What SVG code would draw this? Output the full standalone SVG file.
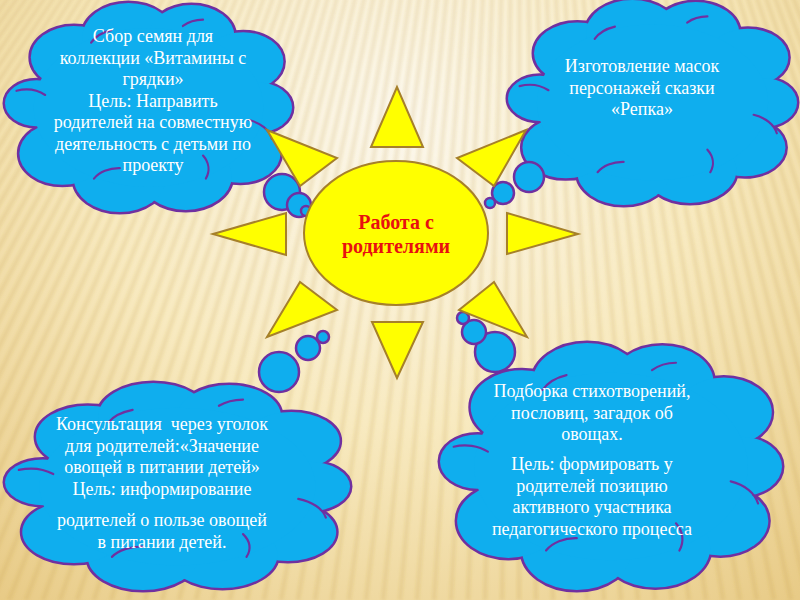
<svg xmlns="http://www.w3.org/2000/svg" xmlns:xlink="http://www.w3.org/1999/xlink" width="800" height="600" viewBox="0 0 800 600">
<style>
.lb{vector-effect:non-scaling-stroke}
.ia{fill:none;stroke:#7030A0;stroke-width:2.2;vector-effect:non-scaling-stroke;stroke-linecap:round}
.bub{fill:#0FAEEE;stroke:#7030A0;stroke-width:2.5}
.ray{fill:#FFFF00;stroke:#A6802A;stroke-width:2;stroke-linejoin:miter}
.t{font-family:"Liberation Serif","Times New Roman",serif;font-size:18px;fill:#FFFFFF;text-anchor:middle}
.st{font-family:"Liberation Serif","Times New Roman",serif;font-size:20px;font-weight:bold;fill:#E81010;text-anchor:middle}
</style>
<defs>
<radialGradient id="bg" cx="400" cy="120" r="680" gradientUnits="userSpaceOnUse">
<stop offset="0" stop-color="#FCF8EE"/>
<stop offset="0.45" stop-color="#F8EAC0"/>
<stop offset="1" stop-color="#E5C57C"/>
</radialGradient>
<filter id="soft" x="-5%" y="-5%" width="110%" height="110%"><feGaussianBlur stdDeviation="1.4"/></filter>
<g id="lobes">
<circle class="lb" cx="11" cy="48" r="11"/>
<circle class="lb" cx="24" cy="26" r="15"/>
<circle class="lb" cx="43" cy="16" r="16"/>
<circle class="lb" cx="65" cy="16" r="15"/>
<circle class="lb" cx="83" cy="28" r="14"/>
<circle class="lb" cx="88" cy="50" r="12"/>
<circle class="lb" cx="82" cy="72" r="14"/>
<circle class="lb" cx="63" cy="83" r="16"/>
<circle class="lb" cx="40" cy="84" r="16"/>
<circle class="lb" cx="20" cy="72" r="15"/>
<ellipse class="lb" cx="50" cy="50" rx="40" ry="38"/>
</g>
<g id="cloud">
<use xlink:href="#lobes" fill="#0FAEEE" stroke="#7030A0" stroke-width="5"/>
<use xlink:href="#lobes" fill="#0FAEEE" stroke="none"/>
<path class="ia" d="M4,42 A10,10 0 0 1 14,44"/>
<path class="ia" d="M30,19 A12,12 0 0 1 37,13"/>
<path class="ia" d="M62,11 A10,10 0 0 1 69,8"/>
<path class="ia" d="M85,56 A12,12 0 0 1 93,65"/>
<path class="ia" d="M69,73 A12,12 0 0 1 70,84"/>
<path class="ia" d="M40,79 A10,10 0 0 0 31,84"/>
</g>
</defs>

<g id="background">
<rect x="0" y="0" width="800" height="600" fill="url(#bg)"/>
<path filter="url(#soft)" fill="none" stroke="#B48A34" stroke-opacity="0.15" stroke-width="4.5" d="M520-700L-450 600M520-700L-433 600M520-700L-416 600M520-700L-399 600M520-700L-382 600M520-700L-365 600M520-700L-348 600M520-700L-331 600M520-700L-314 600M520-700L-297 600M520-700L-280 600M520-700L-263 600M520-700L-246 600M520-700L-229 600M520-700L-212 600M520-700L-195 600M520-700L-178 600M520-700L-161 600M520-700L-144 600M520-700L-127 600M520-700L-110 600M520-700L-93 600M520-700L-76 600M520-700L-59 600M520-700L-42 600M520-700L-25 600M520-700L-8 600M520-700L9 600M520-700L26 600M520-700L43 600M520-700L60 600M520-700L77 600M520-700L94 600M520-700L111 600M520-700L128 600M520-700L145 600M520-700L162 600M520-700L179 600M520-700L196 600M520-700L213 600M520-700L230 600M520-700L247 600M520-700L264 600M520-700L281 600M520-700L298 600M520-700L315 600M520-700L332 600M520-700L349 600M520-700L366 600M520-700L383 600M520-700L400 600M520-700L417 600M520-700L434 600M520-700L451 600M520-700L468 600M520-700L485 600M520-700L502 600M520-700L519 600M520-700L536 600M520-700L553 600M520-700L570 600M520-700L587 600M520-700L604 600M520-700L621 600M520-700L638 600M520-700L655 600M520-700L672 600M520-700L689 600M520-700L706 600M520-700L723 600M520-700L740 600M520-700L757 600M520-700L774 600M520-700L791 600M520-700L808 600M520-700L825 600M520-700L842 600M520-700L859 600M520-700L876 600M520-700L893 600M520-700L910 600M520-700L927 600M520-700L944 600M520-700L961 600M520-700L978 600M520-700L995 600M520-700L1012 600M520-700L1029 600M520-700L1046 600"/>
</g>

<g id="cloud-seeds">
<use xlink:href="#cloud" transform="translate(5,3) scale(2.87,2.09)"/>
<text class="t" x="153" y="42">Сбор семян для</text>
<text class="t" x="153" y="63.5">коллекции «Витамины с</text>
<text class="t" x="153" y="85">грядки»</text>
<text class="t" x="153" y="106.5">Цель: Направить</text>
<text class="t" x="153" y="128">родителей на совместную</text>
<text class="t" x="153" y="149.5">деятельность с детьми по</text>
<text class="t" x="153" y="171">проекту</text>
</g>

<g id="cloud-masks">
<use xlink:href="#cloud" transform="translate(508,0) scale(2.89,2.05)"/>
<text class="t" x="642" y="72">Изготовление масок</text>
<text class="t" x="642" y="93.5">персонажей сказки</text>
<text class="t" x="642" y="115">«Репка»</text>
</g>

<g id="cloud-consult">
<use xlink:href="#cloud" transform="translate(5,383) scale(3.45,2.07)"/>
<text class="t" x="162" y="430" xml:space="preserve">Консультация  через уголок</text>
<text class="t" x="162" y="451.5">для родителей:«Значение</text>
<text class="t" x="162" y="473">овощей в питании детей»</text>
<text class="t" x="162" y="494.5">Цель: информирование</text>
<text class="t" x="162" y="526">родителей о пользе овощей</text>
<text class="t" x="162" y="547.5">в питании детей.</text>
</g>

<g id="cloud-poems">
<use xlink:href="#cloud" transform="translate(440,343) scale(3.42,2.47)"/>
<text class="t" x="592" y="397">Подборка стихотворений,</text>
<text class="t" x="592" y="418.5">пословиц, загадок об</text>
<text class="t" x="592" y="440">овощах.</text>
<text class="t" x="592" y="470">Цель: формировать у</text>
<text class="t" x="592" y="491.5">родителей позицию</text>
<text class="t" x="592" y="513">активного участника</text>
<text class="t" x="592" y="534.5">педагогического процесса</text>
</g>

<g id="connectors">
<circle class="bub" cx="282" cy="192" r="18"/>
<circle class="bub" cx="299" cy="205" r="12"/>
<circle class="bub" cx="306" cy="211" r="5"/>
<circle class="bub" cx="529" cy="177" r="15"/>
<circle class="bub" cx="503" cy="193" r="11"/>
<circle class="bub" cx="490" cy="203" r="5"/>
<circle class="bub" cx="279" cy="372" r="20"/>
<circle class="bub" cx="308" cy="348" r="12"/>
<circle class="bub" cx="323" cy="337" r="6"/>
<circle class="bub" cx="495" cy="352" r="20"/>
<circle class="bub" cx="474" cy="332" r="12"/>
<circle class="bub" cx="463" cy="318" r="6"/>
</g>

<g id="sun">
<polygon class="ray" points="397,87 371,147 423,147"/>
<polygon class="ray" points="372,322 423,322 397,378"/>
<polygon class="ray" points="213,234 286,213 286,255"/>
<polygon class="ray" points="507,213 507,254 578,234"/>
<polygon class="ray" points="267,130 337,158 300,186"/>
<polygon class="ray" points="526,130 457,158 494,186"/>
<polygon class="ray" points="300,282 337,310 267,337"/>
<polygon class="ray" points="494,282 459,310 527,337"/>
<ellipse class="ray" cx="396" cy="233" rx="92" ry="72"/>
<text class="st" x="396" y="229">Работа с</text>
<text class="st" x="396" y="252.5">родителями</text>
</g>
</svg>
